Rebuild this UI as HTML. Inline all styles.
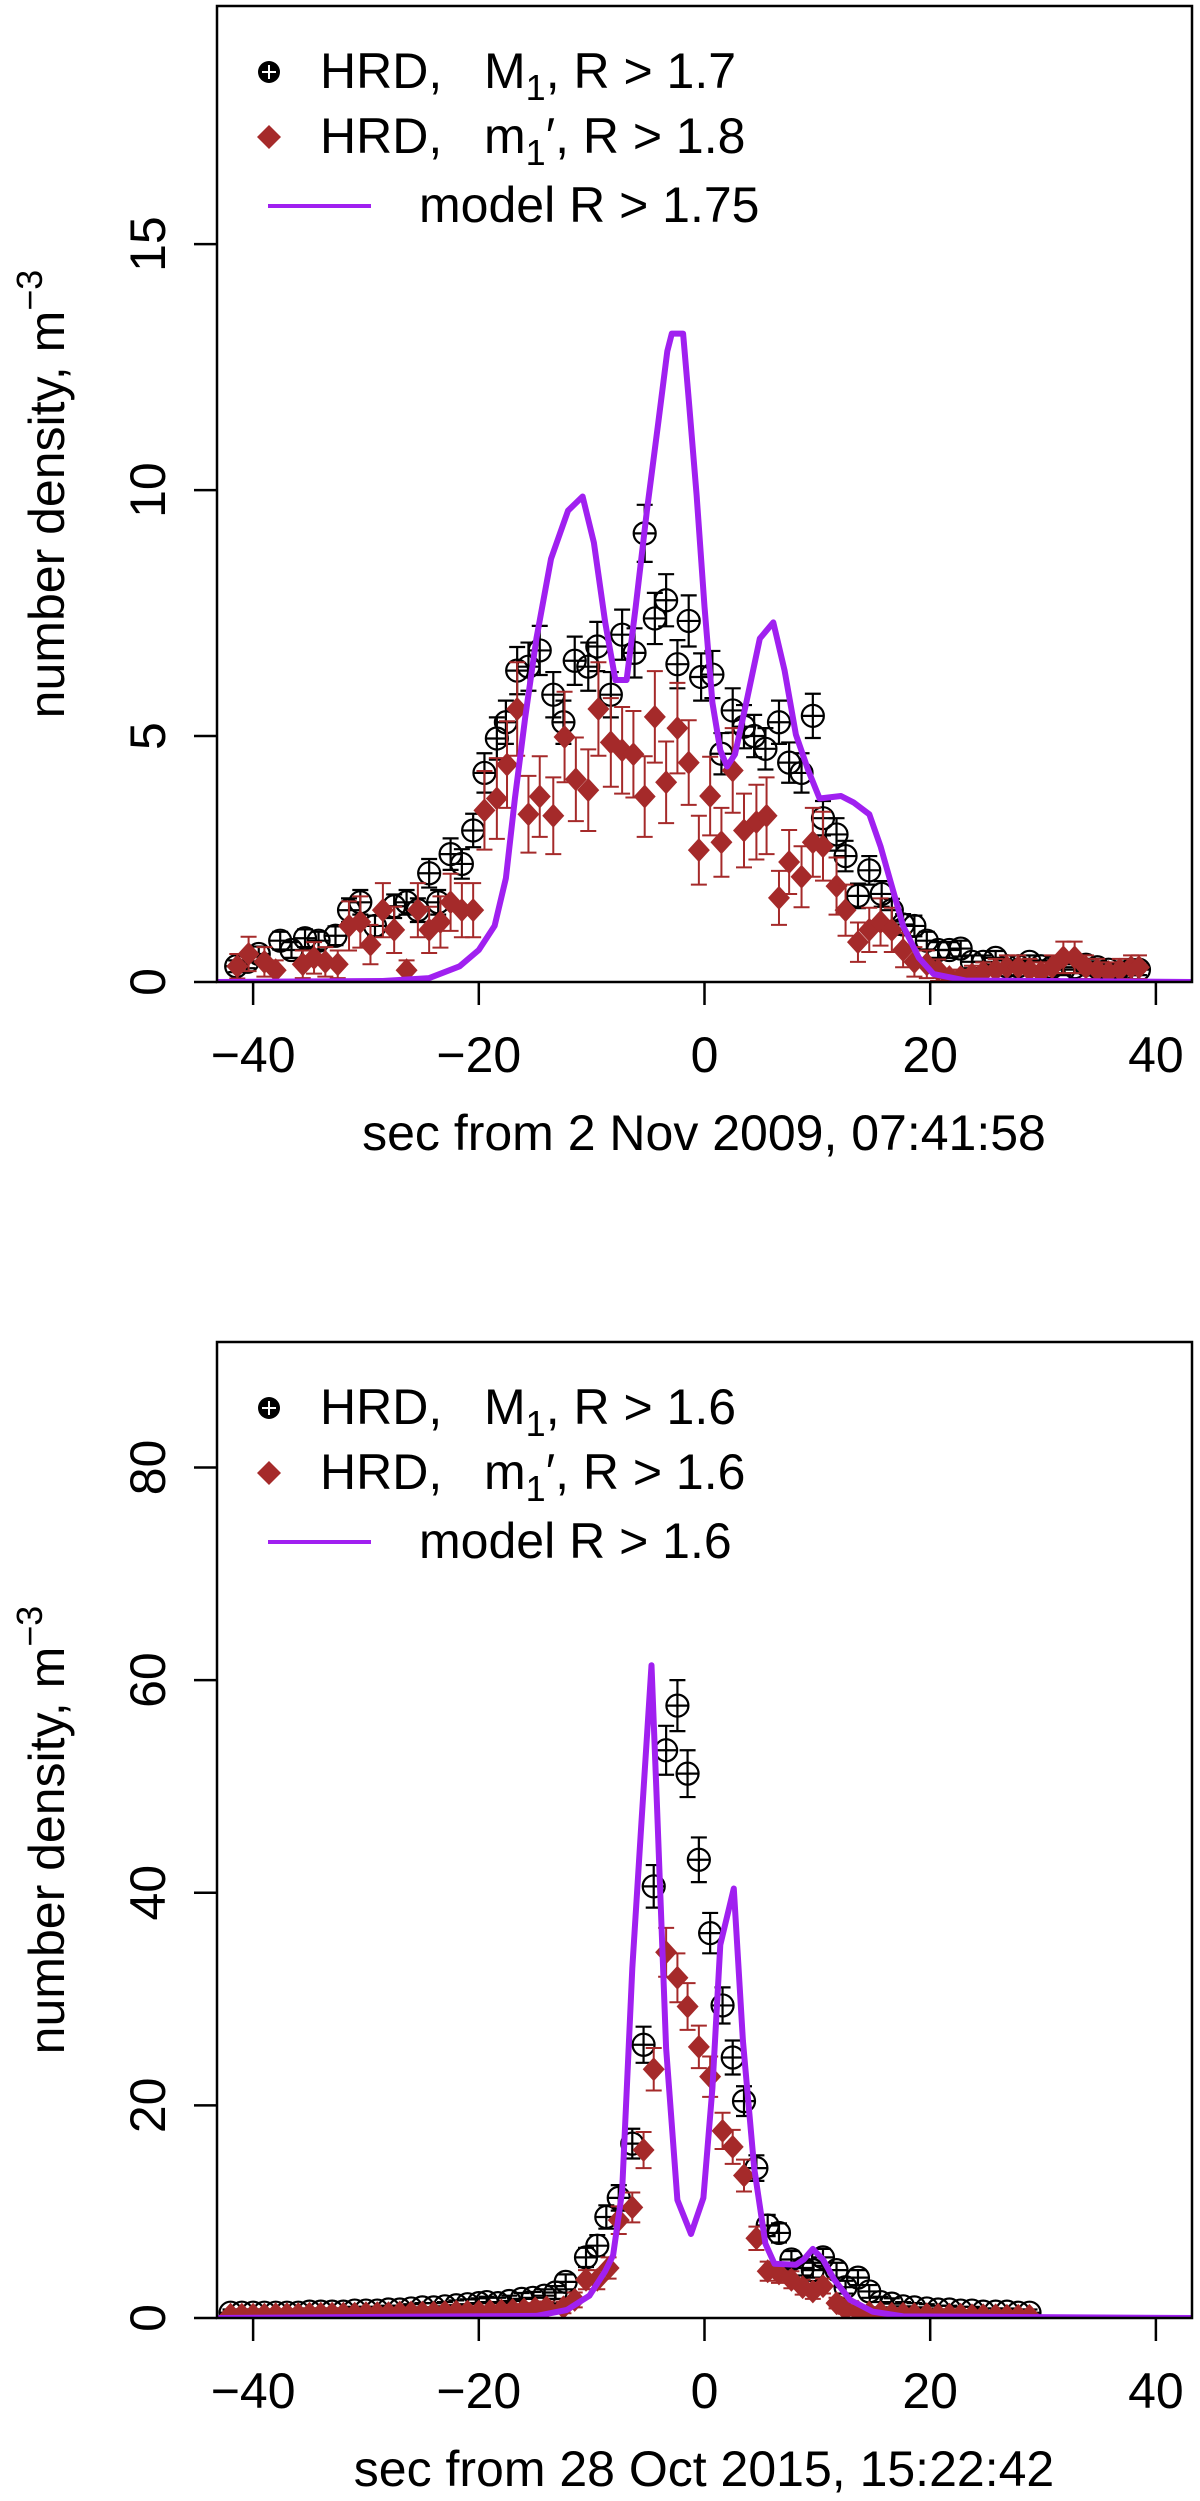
<!DOCTYPE html>
<html><head><meta charset="utf-8">
<style>
html,body{margin:0;padding:0;background:#fff;}
svg{display:block;font-family:"Liberation Sans",Arial,sans-serif;}
</style></head>
<body>
<svg id="fig" width="1200" height="2501" viewBox="0 0 1200 2501" xmlns="http://www.w3.org/2000/svg"></svg>
<script>
// ---------- Panel 1 data (2 Nov 2009) ----------
const p1BlackX = [-41.5,-40.5,-39.5,-37.6,-36.6,-35.4,-34.2,-32.7,-31.5,-30.5,-29.2,-27.5,-26.4,-25.4,-24.4,-23.6,-22.5,-21.5,-20.5,-19.5,-18.4,-17.6,-16.6,-15.6,-14.6,-13.4,-12.5,-11.5,-10.3,-9.5,-8.3,-7.3,-6.2,-5.3,-4.4,-3.4,-2.4,-1.4,-0.3,0.7,1.5,2.5,3.5,4.4,5.4,6.6,7.5,8.6,9.6,10.5,11.7,12.5,13.6,14.6,15.7,16.6,17.6,18.6,19.7,20.7,21.7,22.7,23.7,24.7,25.8,26.8,27.8,28.8,29.8,30.8,31.8,32.8,33.8,34.8,35.8,36.8,37.8,38.5];
const p1BlackY = [0.32,0.41,0.57,0.84,0.65,0.89,0.84,0.94,1.46,1.62,1.14,1.54,1.62,1.46,2.21,1.62,2.60,2.40,3.08,4.25,4.95,5.28,6.33,6.41,6.74,5.84,5.28,6.53,6.41,6.82,5.84,7.06,6.69,9.12,7.39,7.76,6.46,7.34,6.20,6.25,4.64,5.52,5.19,5.00,4.74,5.28,4.46,4.25,5.41,3.33,3.00,2.56,1.75,2.27,1.79,1.46,1.17,1.14,0.84,0.65,0.65,0.68,0.41,0.41,0.49,0.32,0.32,0.41,0.32,0.30,0.25,0.30,0.35,0.30,0.25,0.20,0.25,0.25];
const p1BlackErr = [0.12,0.13,0.15,0.18,0.16,0.18,0.18,0.19,0.24,0.25,0.21,0.24,0.25,0.24,0.29,0.25,0.32,0.30,0.34,0.40,0.43,0.44,0.48,0.49,0.50,0.46,0.44,0.49,0.49,0.50,0.46,0.51,0.50,0.58,0.52,0.53,0.49,0.52,0.48,0.48,0.42,0.45,0.44,0.43,0.42,0.44,0.41,0.40,0.45,0.35,0.33,0.31,0.25,0.29,0.26,0.23,0.21,0.21,0.18,0.16,0.16,0.16,0.13,0.13,0.14,0.12,0.12,0.13,0.12,0.12,0.11,0.12,0.12,0.12,0.11,0.10,0.11,0.11];
const p1RedX = [-41.4,-40.4,-39.0,-38.0,-35.6,-34.6,-33.6,-32.5,-31.5,-30.5,-29.6,-28.5,-27.5,-26.4,-25.4,-24.4,-23.4,-22.5,-21.5,-20.5,-19.5,-18.4,-17.5,-16.6,-15.6,-14.6,-13.4,-12.4,-11.4,-10.3,-9.4,-8.3,-7.3,-6.3,-5.3,-4.4,-3.4,-2.4,-1.4,-0.5,0.5,1.5,2.5,3.5,4.6,5.5,6.6,7.5,8.6,9.6,10.5,11.7,12.5,13.6,14.6,15.6,16.6,17.6,18.6,19.7,20.7,21.7,22.7,23.7,24.7,25.8,26.8,27.8,28.8,29.8,30.8,31.8,32.8,33.8,34.8,35.8,36.8,37.8,38.5];
const p1RedY = [0.32,0.57,0.41,0.24,0.36,0.49,0.41,0.36,1.14,1.22,0.76,1.46,1.06,0.24,1.46,1.06,1.22,1.62,1.46,1.46,3.49,3.73,4.42,5.55,3.41,3.77,3.38,4.98,4.12,3.90,5.55,4.87,4.71,4.63,3.77,5.39,4.06,5.16,4.46,2.68,3.78,2.84,4.30,3.08,3.25,3.38,1.71,2.44,2.14,2.84,2.76,1.95,1.46,0.81,1.06,1.22,1.06,0.65,0.41,0.36,0.24,0.10,0.10,0.15,0.20,0.25,0.30,0.30,0.25,0.20,0.30,0.50,0.50,0.30,0.25,0.20,0.25,0.30,0.30];
const p1RedErr = [0.25,0.35,0.30,0.20,0.28,0.32,0.30,0.28,0.50,0.52,0.40,0.55,0.47,0.20,0.55,0.47,0.52,0.58,0.55,0.55,0.80,0.82,0.88,0.95,0.78,0.82,0.78,0.92,0.85,0.83,0.95,0.90,0.88,0.88,0.82,0.93,0.83,0.92,0.86,0.70,0.80,0.70,0.86,0.75,0.76,0.78,0.55,0.65,0.62,0.70,0.70,0.58,0.52,0.40,0.45,0.48,0.45,0.35,0.30,0.28,0.22,0.15,0.15,0.18,0.20,0.22,0.24,0.24,0.22,0.20,0.24,0.32,0.32,0.24,0.22,0.20,0.22,0.24,0.24];
const p1ModelX = [-43.2,-28.5,-24.4,-21.7,-20.0,-18.6,-17.6,-16.8,-15.9,-14.9,-13.6,-12.1,-10.8,-9.8,-8.8,-7.9,-6.9,-6.1,-5.1,-4.1,-3.3,-2.9,-1.9,-1.4,-0.7,0.0,0.7,1.4,2.0,2.7,3.7,4.9,6.1,7.1,8.1,9.2,10.2,12.1,13.2,14.6,15.6,16.6,17.6,19.0,20.3,23.1,43.2];
const p1ModelY = [0,0.02,0.08,0.32,0.65,1.14,2.11,3.73,5.36,6.98,8.6,9.58,9.87,8.93,7.31,6.14,6.14,7.63,9.58,11.36,12.82,13.18,13.18,11.85,9.9,7.63,5.68,4.71,4.38,4.63,5.68,6.98,7.31,6.33,5.03,4.3,3.73,3.78,3.65,3.41,2.76,1.95,1.14,0.49,0.16,0.03,0];
const p1YTicks = [0,5,10,15];
const p1XTicks = [-40,-20,0,20,40];

// ---------- Panel 2 data (28 Oct 2015) ----------
const p2BlackX = [-42,-41,-40,-39,-38,-37,-36,-35,-34,-33,-32,-31,-30,-29,-28,-27,-26,-25,-24,-23,-22,-21,-20,-19.3,-18.3,-17.3,-16.2,-15.2,-14.2,-13.2,-12.3,-10.5,-9.5,-8.7,-7.6,-6.4,-5.4,-4.5,-3.4,-2.4,-1.5,-0.5,0.5,1.6,2.5,3.5,4.6,5.6,6.6,7.7,8.7,9.6,10.5,11.7,12.5,13.6,14.6,15.6,16.6,17.6,18.6,19.7,20.7,21.7,22.7,23.7,24.7,25.8,26.8,27.8,28.8];
const p2BlackY = [0.5,0.5,0.5,0.5,0.5,0.5,0.5,0.6,0.6,0.6,0.6,0.7,0.7,0.7,0.8,0.8,0.9,1.0,1.0,1.1,1.2,1.3,1.4,1.5,1.4,1.6,1.8,1.9,2.1,2.4,3.4,5.7,6.8,9.5,11.3,16.4,25.7,40.6,53.4,57.6,51.2,43.1,36.2,29.4,24.5,20.4,14.1,8.7,8.0,5.5,4.7,4.5,5.7,4.5,2.9,3.8,2.5,1.5,1.35,1.1,1.0,0.9,0.8,0.8,0.7,0.7,0.6,0.6,0.6,0.5,0.5];
const p2BlackErr = [0.3,0.3,0.3,0.3,0.3,0.3,0.3,0.3,0.3,0.3,0.3,0.35,0.35,0.35,0.35,0.35,0.4,0.4,0.4,0.4,0.45,0.45,0.45,0.5,0.5,0.5,0.55,0.55,0.6,0.6,0.7,0.9,1.0,1.1,1.2,1.4,1.7,2.0,2.3,2.4,2.2,2.1,1.9,1.7,1.6,1.4,1.2,1.0,0.9,0.8,0.7,0.7,0.8,0.7,0.6,0.7,0.6,0.5,0.5,0.4,0.4,0.4,0.35,0.35,0.35,0.35,0.3,0.3,0.3,0.3,0.3];
const p2RedX = [-42,-41,-40,-39,-38,-37,-36,-35,-34,-33,-32,-31,-30,-29,-28,-27,-26,-25,-24,-23,-22,-21,-20,-19,-18,-17,-16,-15,-14,-12.5,-11.5,-10.5,-9.5,-8.5,-7.6,-6.4,-5.4,-4.5,-3.4,-2.4,-1.5,-0.5,0.5,1.6,2.5,3.5,4.6,5.6,6.6,7.7,8.7,9.6,10.5,11.7,12.5,13.6,14.6,15.6,16.6,17.6,18.6,19.7,20.7,21.7,22.7,23.7,24.7,25.8,26.8,27.8,28.8];
const p2RedY = [0.3,0.3,0.3,0.3,0.35,0.35,0.35,0.4,0.4,0.4,0.4,0.4,0.45,0.45,0.45,0.5,0.5,0.5,0.5,0.55,0.6,0.6,0.6,0.65,0.7,0.75,0.8,0.9,1.0,1.0,1.7,3.6,3.6,4.7,9.2,10.4,15.8,23.4,34.4,32.0,29.3,25.5,22.7,17.6,16.1,13.4,7.5,4.4,4.2,3.6,2.9,2.5,3.0,1.4,0.8,0.6,0.5,0.5,0.4,0.4,0.35,0.35,0.3,0.3,0.3,0.25,0.25,0.25,0.2,0.2,0.2];
const p2RedErr = [0.3,0.3,0.3,0.3,0.3,0.3,0.3,0.3,0.3,0.3,0.3,0.3,0.3,0.3,0.3,0.35,0.35,0.35,0.35,0.35,0.4,0.4,0.4,0.4,0.45,0.45,0.5,0.5,0.55,0.55,0.7,0.9,0.9,1.0,1.3,1.4,1.7,2.0,2.3,2.3,2.2,2.0,1.9,1.7,1.6,1.5,1.1,0.9,0.9,0.8,0.7,0.7,0.7,0.5,0.4,0.35,0.3,0.3,0.3,0.3,0.3,0.3,0.3,0.3,0.3,0.25,0.25,0.25,0.2,0.2,0.2];
const p2ModelX = [-43.2,-14.9,-12.2,-10.2,-8.8,-8.1,-7.3,-6.4,-5.6,-4.7,-4.2,-3.4,-2.4,-1.2,-0.1,0.7,1.4,2.6,3.4,4.4,5.4,6.2,8.1,8.8,9.6,10.5,11.5,12.9,14.9,17.6,43.2];
const p2ModelY = [0,0.2,0.75,2.1,4.4,5.9,11.9,32.9,46.4,61.4,47.9,25.4,11.1,7.9,11.3,21.6,35.1,40.4,26.1,14.1,7.0,5.1,5.0,5.5,6.5,5.5,3.6,1.7,0.6,0.15,0];
const p2YTicks = [0,20,40,60,80];
const p2XTicks = [-40,-20,0,20,40];

const NS = "http://www.w3.org/2000/svg";
const svg = document.getElementById('fig');
const BROWN = "#A52A2A", PURPLE = "#A020F0";

function mk(tag, attrs, parent){
  const e = document.createElementNS(NS, tag);
  for (const k in attrs) e.setAttribute(k, attrs[k]);
  (parent||svg).appendChild(e);
  return e;
}

function panel(cfg){
  const g = mk('g', {});
  
  
  const L=217, R=1192, T=cfg.top, B=cfg.top+976;
  const xs = v => L + (v - (-43.2)) / 86.4 * (R - L);
  const ys = v => B - v / cfg.ymax * (B - T);

  // clip
  const cp = mk('clipPath', {id: cfg.name+'-clip'}, g);
  mk('rect', {x:L, y:T, width:R-L, height:B-T}, cp);
  const plot = mk('g', {'clip-path':'url(#'+cfg.name+'-clip)'}, g);
  
  

  // black circles with error bars
  for (let i=0;i<cfg.bx.length;i++){
    const cx=xs(cfg.bx[i]), cy=ys(cfg.by[i]);
    const e1=ys(cfg.by[i]+cfg.be[i]), e2=ys(Math.max(0,cfg.by[i]-cfg.be[i]));
    const pt = mk('g', {stroke:'#000','stroke-width':2.2,fill:'none'}, plot);
    
    
    mk('line',{x1:cx,x2:cx,y1:e1,y2:e2},pt);
    mk('line',{x1:cx-8,x2:cx+8,y1:e1,y2:e1},pt);
    mk('line',{x1:cx-8,x2:cx+8,y1:e2,y2:e2},pt);
    mk('circle',{cx:cx,cy:cy,r:11},pt);
    mk('line',{x1:cx-11,x2:cx+11,y1:cy,y2:cy},pt);
  }
  // red diamonds
  for (let i=0;i<cfg.rx.length;i++){
    const cx=xs(cfg.rx[i]), cy=ys(cfg.ry[i]);
    const e1=ys(cfg.ry[i]+cfg.re[i]), e2=ys(Math.max(0,cfg.ry[i]-cfg.re[i]));
    const pt = mk('g', {}, plot);
    
    
    const eb = mk('g',{stroke:BROWN,'stroke-width':2},pt);
    mk('line',{x1:cx,x2:cx,y1:e1,y2:e2},eb);
    mk('line',{x1:cx-8,x2:cx+8,y1:e1,y2:e1},eb);
    mk('line',{x1:cx-8,x2:cx+8,y1:e2,y2:e2},eb);
    mk('polygon',{points:`${cx},${cy-12} ${cx+11},${cy} ${cx},${cy+12} ${cx-11},${cy}`,fill:BROWN},pt);
  }
  // model line
  let d='';
  for (let i=0;i<cfg.mx.length;i++) d += (i?'L':'M') + xs(cfg.mx[i]).toFixed(1)+','+ys(cfg.my[i]).toFixed(1);
  const ml = mk('path',{d:d,fill:'none',stroke:PURPLE,'stroke-width':6,'stroke-linejoin':'round'},plot);
  
  

  // frame
  const fr = mk('rect',{x:L,y:T,width:R-L,height:B-T,fill:'none',stroke:'#000','stroke-width':2.5},g);
  
  

  // y ticks
  for (const t of cfg.yt){
    const y = ys(t);
    const tk = mk('line',{x1:L-23,x2:L,y1:y,y2:y,stroke:'#000','stroke-width':2.5},g);
    
    
    const tl = mk('text',{x:0,y:0,'font-size':50,'text-anchor':'middle',transform:`translate(165,${y}) rotate(-90)`},g);
    
    
    tl.textContent = t;
  }
  // x ticks
  for (const t of cfg.xt){
    const x = xs(t);
    const tk = mk('line',{x1:x,x2:x,y1:B,y2:B+23,stroke:'#000','stroke-width':2.5},g);
    
    
    const tl = mk('text',{x:x,y:B+90,'font-size':50,'text-anchor':'middle'},g);
    
    
    tl.textContent = (t<0?'\u2212':'') + Math.abs(t);
  }
  // axis titles
  const xt = mk('text',{x:704,y:B+168,'font-size':50,'text-anchor':'middle'},g);
  
  
  xt.textContent = cfg.xlabel;
  const yt = mk('text',{x:0,y:0,'font-size':50,'text-anchor':'middle',transform:`translate(64,${T+488}) rotate(-90)`},g);
  
  
  yt.innerHTML = 'number density, m<tspan dy="-22" font-size="36">\u22123</tspan>';

  // legend
  const lg = mk('g',{},g);
  
  
  const r1=T+82, r2=T+147, r3=T+216;
  const e1 = mk('g',{},lg);
  
  
  mk('circle',{cx:269,cy:r1-16,r:11,fill:'#000'},e1);
  mk('line',{x1:262,x2:276,y1:r1-16,y2:r1-16,stroke:'#fff','stroke-width':2},e1);
  mk('line',{x1:269,x2:269,y1:r1-23,y2:r1-9,stroke:'#fff','stroke-width':2},e1);
  const t1 = mk('text',{x:320,y:r1,'font-size':50},e1);
  t1.innerHTML = 'HRD,<tspan x="484">M</tspan><tspan dy="12" font-size="36">1</tspan><tspan dy="-12">, R &gt; '+cfg.leg1+'</tspan>';
  const e2 = mk('g',{},lg);
  
  
  mk('polygon',{points:`269,${r2-28} 281,${r2-16} 269,${r2-4} 257,${r2-16}`,fill:BROWN},e2);
  const t2 = mk('text',{x:320,y:r2,'font-size':50},e2);
  t2.innerHTML = 'HRD,<tspan x="484">m</tspan><tspan dy="12" font-size="36">1</tspan><tspan dy="-12">\u2032, R &gt; '+cfg.leg2+'</tspan>';
  const e3 = mk('g',{},lg);
  
  
  mk('line',{x1:268,x2:371,y1:r3-16,y2:r3-16,stroke:PURPLE,'stroke-width':4},e3);
  const t3 = mk('text',{x:419,y:r3,'font-size':50},e3);
  t3.textContent = 'model R > '+cfg.leg3;
}

panel({name:'panel-2009', top:6, ymax:19.84, bx:p1BlackX, by:p1BlackY, be:p1BlackErr, rx:p1RedX, ry:p1RedY, re:p1RedErr, mx:p1ModelX, my:p1ModelY, yt:p1YTicks, xt:p1XTicks, xlabel:'sec from 2 Nov 2009, 07:41:58', leg1:'1.7', leg2:'1.8', leg3:'1.75'});
panel({name:'panel-2015', top:1342, ymax:91.8, bx:p2BlackX, by:p2BlackY, be:p2BlackErr, rx:p2RedX, ry:p2RedY, re:p2RedErr, mx:p2ModelX, my:p2ModelY, yt:p2YTicks, xt:p2XTicks, xlabel:'sec from 28 Oct 2015, 15:22:42', leg1:'1.6', leg2:'1.6', leg3:'1.6'});
</script>
</body></html>
